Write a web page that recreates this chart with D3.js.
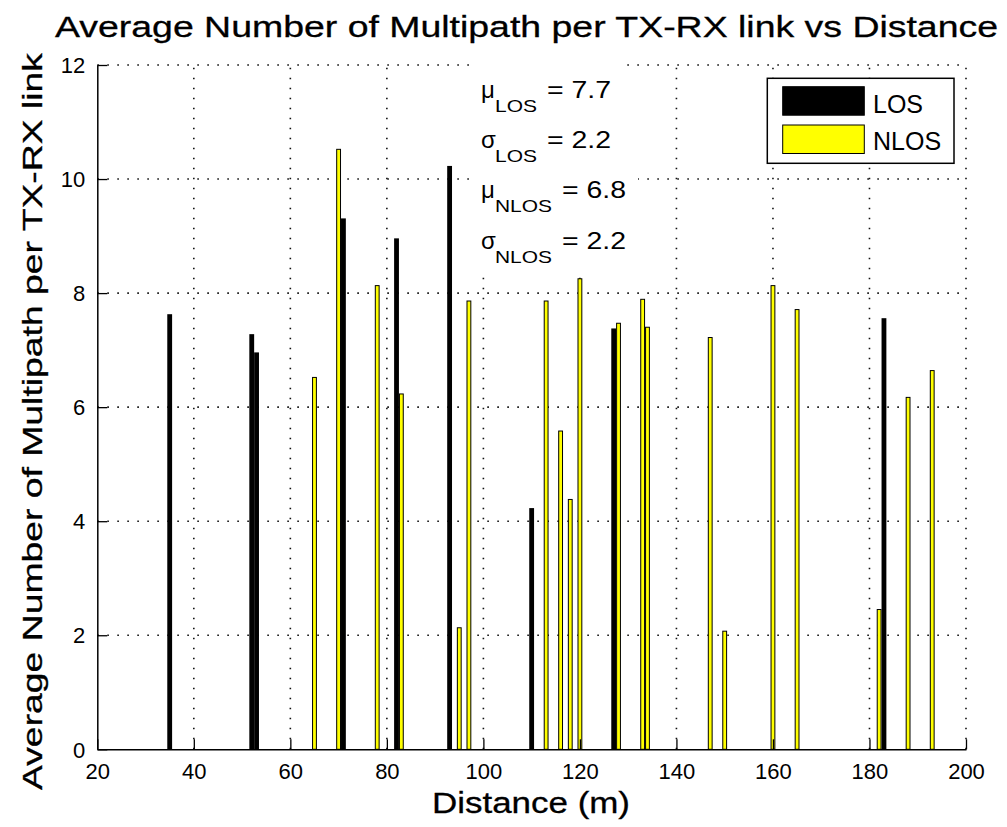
<!DOCTYPE html>
<html>
<head>
<meta charset="utf-8">
<script src="https://cdn.jsdelivr.net/npm/d3@7/dist/d3.min.js"></script>
<style>
  html, body { margin: 0; padding: 0; background: #fff; }
  svg { display: block; }
  text { font-family: "Liberation Sans", Arial, Helvetica, sans-serif; fill: #000; }
  .heavy { stroke: #000; stroke-width: 0.3px; }
</style>
</head>
<body>
<svg id="chart" width="1007" height="827"></svg>
<script>
// Line-of-sight links: distance (m) and average number of multipath components
const losDistance = [35, 52, 53, 71, 82, 93, 110, 127, 183];
const losMultipath = [7.63, 7.28, 6.96, 9.31, 8.96, 10.23, 4.23, 7.38, 7.56];

// Non-line-of-sight links
const nlosDistance = [65, 70, 78, 83, 95, 97, 113, 116, 118, 120, 128, 133, 134, 147, 150, 160, 165, 182, 188, 193];
const nlosMultipath = [6.53, 10.53, 8.14, 6.24, 2.14, 7.87, 7.87, 5.59, 4.39, 8.26, 7.48, 7.90, 7.41, 7.23, 2.08, 8.14, 7.72, 2.46, 6.18, 6.65];

const xTicks = [20, 40, 60, 80, 100, 120, 140, 160, 180, 200];
const yTicks = [0, 2, 4, 6, 8, 10, 12];

const seriesNames = ["LOS", "NLOS"];
const stats = [
  { sym: "\u03BC", sub: "LOS", val: "= 7.7" },
  { sym: "\u03C3", sub: "LOS", val: "= 2.2" },
  { sym: "\u03BC", sub: "NLOS", val: "= 6.8" },
  { sym: "\u03C3", sub: "NLOS", val: "= 2.2" }
];

const svg = d3.select("#chart");
const plotLeft = 97.3, plotRight = 966, plotTop = 65, plotBottom = 749.3;

const x = d3.scaleLinear().domain([20, 200]).range([plotLeft, plotRight]);
const y = d3.scaleLinear().domain([0, 12]).range([plotBottom, plotTop]);
const barW = x(21) - x(20);

svg.append("rect").attr("width", 1007).attr("height", 827).attr("fill", "#fff");

// dotted grid
const grid = svg.append("g")
  .attr("stroke", "#111").attr("stroke-width", 1.6).attr("stroke-dasharray", "1.6,8.4");
grid.selectAll("line.v").data(xTicks.filter(d => d > 20)).join("line")
  .attr("class", "v")
  .attr("x1", d => x(d)).attr("x2", d => x(d))
  .attr("y1", plotBottom).attr("y2", plotTop);
grid.selectAll("line.h").data(yTicks.filter(d => d > 0)).join("line")
  .attr("class", "h")
  .attr("x1", plotLeft).attr("x2", plotRight)
  .attr("y1", d => y(d)).attr("y2", d => y(d));

// white backing behind the statistics text
svg.append("rect").attr("x", 470).attr("y", 60).attr("width", 150).attr("height", 112).attr("fill", "#fff");
svg.append("rect").attr("x", 470).attr("y", 170).attr("width", 168).attr("height", 106).attr("fill", "#fff");

// bars
const losData = losDistance.map((d, i) => ({ d, v: losMultipath[i] }));
const nlosData = nlosDistance.map((d, i) => ({ d, v: nlosMultipath[i] }));

svg.append("g").selectAll("rect").data(losData).join("rect")
  .attr("x", p => x(p.d) - barW / 2)
  .attr("width", barW)
  .attr("y", p => y(p.v))
  .attr("height", p => y(0) - y(p.v))
  .attr("fill", "#000");

svg.append("g").selectAll("rect").data(nlosData).join("rect")
  .attr("x", p => x(p.d) - barW / 2 + 0.5)
  .attr("width", barW - 1)
  .attr("y", p => y(p.v) + 0.5)
  .attr("height", p => y(0) - y(p.v) - 0.5)
  .attr("fill", "#ffff00")
  .attr("stroke", "#000")
  .attr("stroke-width", 1);

// axes
const xAxis = d3.axisBottom(x).tickValues(xTicks).tickSizeInner(-10).tickSizeOuter(0).tickPadding(14);
const yAxis = d3.axisLeft(y).tickValues(yTicks).tickSizeInner(-10).tickSizeOuter(0).tickPadding(12);

const gx = svg.append("g").attr("transform", `translate(0,${plotBottom})`).call(xAxis);
const gy = svg.append("g").attr("transform", `translate(${plotLeft},0)`).call(yAxis);

[gx, gy].forEach(g => {
  g.select(".domain").attr("stroke", "#000").attr("stroke-width", 1.5);
  g.selectAll(".tick line").attr("stroke", "#000").attr("stroke-width", 1.3);
  g.selectAll(".tick text")
    .attr("font-family", "'Liberation Sans', Arial, sans-serif")
    .attr("font-size", 22).attr("fill", "#222");
});
gy.selectAll(".tick text").attr("dy", "0.35em");

// statistics text
const statBase = [98, 148, 198, 249];
const subLen = { LOS: 42, NLOS: 57 };
const valX = { LOS: 547, NLOS: 562 };
const st = svg.append("g");
stats.forEach((s, i) => {
  const b = statBase[i];
  st.append("text").attr("x", 481).attr("y", b).attr("font-size", 24).text(s.sym);
  st.append("text").attr("x", 495).attr("y", b + 14).attr("font-size", 17)
    .attr("textLength", subLen[s.sub]).attr("lengthAdjust", "spacingAndGlyphs").text(s.sub);
  st.append("text").attr("x", valX[s.sub]).attr("y", b).attr("font-size", 23)
    .attr("textLength", 64).attr("lengthAdjust", "spacingAndGlyphs").text(s.val);
});

// legend
const lg = svg.append("g");
lg.append("rect").attr("x", 767.3).attr("y", 78.3).attr("width", 186.7).attr("height", 85)
  .attr("fill", "#fff").attr("stroke", "#000").attr("stroke-width", 1.5);
const swatchFill = ["#000", "#ffff00"];
const swatchY = [86.7, 125];
seriesNames.forEach((name, i) => {
  lg.append("rect").attr("x", 782.7).attr("y", swatchY[i]).attr("width", 81.6).attr("height", 28.5)
    .attr("fill", swatchFill[i]).attr("stroke", "#000").attr("stroke-width", 1);
  lg.append("text").attr("x", 873).attr("y", [112.5, 150][i]).attr("font-size", 25).text(name);
});

// title and axis labels
svg.append("text").attr("class", "heavy").attr("x", 55).attr("y", 37).attr("font-size", 30)
  .attr("textLength", 943).attr("lengthAdjust", "spacingAndGlyphs")
  .text("Average Number of Multipath per TX-RX link vs Distance");

svg.append("text").attr("class", "heavy").attr("x", 432).attr("y", 813).attr("font-size", 29)
  .attr("textLength", 198).attr("lengthAdjust", "spacingAndGlyphs")
  .text("Distance (m)");

svg.append("text").attr("class", "heavy").attr("transform", "translate(42,790) rotate(-90)").attr("font-size", 28)
  .attr("textLength", 737).attr("lengthAdjust", "spacingAndGlyphs")
  .text("Average Number of Multipath per TX-RX link");
</script>
</body>
</html>
